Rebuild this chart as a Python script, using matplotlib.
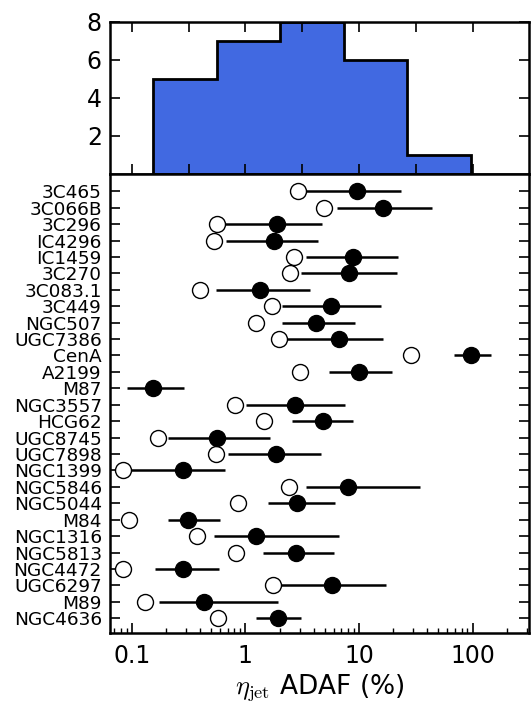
import numpy as np
import matplotlib
matplotlib.use('Agg')
import matplotlib.pyplot as plt

# objects, top to bottom
names = ['3C465', '3C066B', '3C296', 'IC4296', 'IC1459', '3C270', '3C083.1',
         '3C449', 'NGC507', 'UGC7386', 'CenA', 'A2199', 'M87', 'NGC3557',
         'HCG62', 'UGC8745', 'UGC7898', 'NGC1399', 'NGC5846', 'NGC5044',
         'M84', 'NGC1316', 'NGC5813', 'NGC4472', 'UGC6297', 'M89', 'NGC4636']

# eta_jet (%) filled points, with lower / upper ends of the error bar
eta_fill = [9.6, 16.4, 1.9, 1.79, 8.95, 8.2, 1.35,
            5.7, 4.15, 6.65, 96.7, 9.95, 0.154, 2.71,
            4.87, 0.567, 1.85, 0.283, 8.0, 2.87,
            0.313, 1.24, 2.78, 0.281, 5.8, 0.436, 1.92]
eta_lo = [3.4, 6.35, 0.64, 0.675, 3.4, 3.1, 0.55,
          2.1, 2.1, 2.25, 68.5, 5.5, 0.091, 1.02,
          2.56, 0.209, 0.71, 0.095, 3.45, 1.57,
          0.209, 0.53, 1.43, 0.161, 1.85, 0.175, 1.23]
eta_hi = [23.5, 44.0, 4.75, 4.4, 22.2, 21.8, 3.7,
          15.8, 9.25, 16.3, 146.0, 19.7, 0.29, 7.6,
          8.9, 1.64, 4.65, 0.665, 34.8, 6.2,
          0.60, 6.65, 6.08, 0.588, 17.3, 1.92, 3.07]
# open points (M87 has none)
eta_open = [2.9, 4.95, 0.56, 0.53, 2.68, 2.45, 0.40,
            1.72, 1.24, 1.99, 28.9, 3.0, np.nan, 0.81,
            1.46, 0.17, 0.55, 0.0845, 2.4, 0.86,
            0.094, 0.373, 0.83, 0.0845, 1.75, 0.13, 0.575]

hist_ticks = [2, 4, 6, 8]
xtick_vals = [0.1, 1, 10, 100]
xtick_labels = ['0.1', '1', '10', '100']

plt.rcParams['mathtext.fontset'] = 'cm'
plt.rcParams['xtick.direction'] = 'in'
plt.rcParams['ytick.direction'] = 'in'

fig = plt.figure(figsize=(5.32, 7.07), dpi=100)
ax1 = fig.add_axes([0.2070, 0.7539, 0.7880, 0.2150])
ax2 = fig.add_axes([0.2070, 0.1047, 0.7880, 0.6492])

xmin, xmax = -1.19, 2.50

# histogram of log10 of the filled values
ax1.hist(np.log10(eta_fill), bins=5, histtype='stepfilled',
         facecolor='royalblue', edgecolor='k', linewidth=2)
ax1.set_xlim(xmin, xmax)
ax1.set_ylim(0, 8)
ax1.set_xticks(np.arange(-1, 2.01, 0.5))
ax1.set_xticklabels([])
ax1.set_yticks(hist_ticks)
ax1.tick_params(axis='both', which='major', length=7, width=1.2,
                top=True, right=True, labelsize=17, pad=6)

# per-object points
y = np.arange(len(names))[::-1]
fill = np.array(eta_fill)
err = [fill - np.array(eta_lo), np.array(eta_hi) - fill]
ax2.errorbar(fill, y, xerr=err, fmt='none', ecolor='k', elinewidth=1.8,
             capsize=0, zorder=2)
ax2.plot(eta_open, y, 'o', ms=11.5, mfc='white', mec='k', mew=1.0,
         ls='none', zorder=3)
ax2.plot(fill, y, 'o', ms=11.5, mfc='k', mec='k', ls='none', zorder=4)

ax2.set_xscale('log')
ax2.set_xlim(10 ** xmin, 10 ** xmax)
ax2.set_ylim(-0.9, 27.05)
ax2.set_yticks(y)
ax2.set_yticklabels(names)
ax2.set_xticks(xtick_vals)
ax2.set_xticklabels(xtick_labels)
ax2.tick_params(axis='y', which='major', length=7, width=1.2,
                right=True, labelsize=13.3, pad=6)
ax2.tick_params(axis='x', which='major', length=7, width=1.2,
                top=False, labelsize=17, pad=8)
ax2.tick_params(axis='x', which='minor', length=3.5, width=1.0, top=False)
ax2.set_xlabel(r'$\eta_{\rm jet}$ ADAF (%)', fontsize=19, labelpad=3)

for ax in (ax1, ax2):
    for s in ax.spines.values():
        s.set_linewidth(1.8)

plt.savefig('out.png', dpi=100)
